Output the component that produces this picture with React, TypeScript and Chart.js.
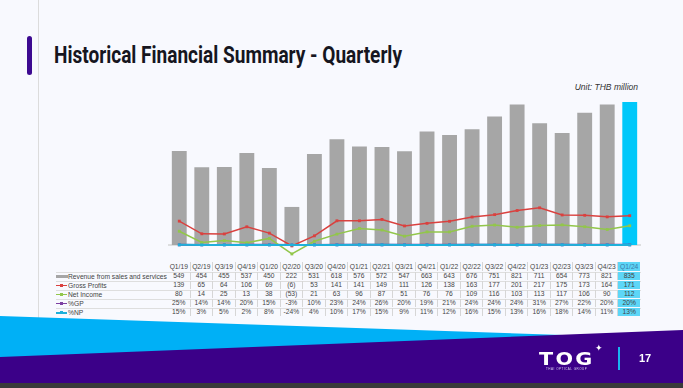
import React, { useEffect, useLayoutEffect, useRef } from "react";
import { Chart, registerables } from "chart.js";

Chart.register(...registerables);

const categories = ["Q1/19","Q2/19","Q3/19","Q4/19","Q1/20","Q2/20","Q3/20","Q4/20","Q1/21","Q2/21","Q3/21","Q4/21","Q1/22","Q2/22","Q3/22","Q4/22","Q1/23","Q2/23","Q3/23","Q4/23","Q1/24"];
const revenue = [549,454,455,537,450,222,531,618,576,572,547,663,643,676,751,821,711,654,773,821,835];
const grossProfit = [139,65,64,106,69,-6,53,141,141,149,111,126,138,163,177,201,217,175,173,164,171];
const netIncome = [80,14,25,13,38,-53,21,63,96,87,51,76,76,109,116,103,113,117,106,90,112];
const gpPct = [25,14,14,20,15,-3,10,23,24,26,20,19,21,24,24,24,31,27,22,20,20];
const npPct = [15,3,5,2,8,-24,4,10,17,15,9,11,12,16,15,13,16,18,14,11,13];

const seriesNames = ["Revenue from sales and services","Gross Profits","Net Income","%GP","%NP"];
const seriesColors = ["#a6a6a6","#d9413f","#92c64b","#7d3fa2","#1fb0da"];
const highlightColor = "#00c8fa";

const CH_LEFT = 168;
const CH_TOP = 91;
const CH_W = 473;
const CH_H = 171;

const fmtNum = (v: number) => (v < 0 ? `(${Math.abs(v)})` : `${v}`);
const fmtPct = (v: number) => `${v}%`;

const zeroLinePlugin = {
  id: "zeroLine",
  beforeDatasetsDraw(chart: any) {
    const y = chart.scales.y.getPixelForValue(0);
    const { left, right } = chart.chartArea;
    const ctx = chart.ctx;
    ctx.save();
    ctx.strokeStyle = "#d4d4d4";
    ctx.lineWidth = 1.5;
    ctx.beginPath();
    ctx.moveTo(left, y);
    ctx.lineTo(right, y);
    ctx.stroke();
    ctx.restore();
  },
};

function ChartCanvas() {
  const ref = useRef<HTMLCanvasElement | null>(null);
  useEffect(() => {
    if (!ref.current) return;
    const last = categories.length - 1;
    const line = (label: string, data: number[], color: string, width: number, order: number) => ({
      type: "line",
      label,
      data,
      borderColor: color,
      backgroundColor: color,
      borderWidth: width,
      pointStyle: "rect",
      pointRadius: 2,
      pointBorderWidth: 0,
      order,
    });
    const chart = new Chart(ref.current, {
      type: "bar",
      data: {
        labels: categories,
        datasets: [
          line(seriesNames[4], npPct.map((v) => v / 100), seriesColors[4], 2, 1),
          line(seriesNames[3], gpPct.map((v) => v / 100), seriesColors[3], 2, 2),
          line(seriesNames[1], grossProfit, seriesColors[1], 1.5, 1),
          line(seriesNames[2], netIncome, seriesColors[2], 1.5, 1),
          {
            type: "bar",
            label: seriesNames[0],
            data: revenue,
            backgroundColor: revenue.map((_, i) => (i === last ? highlightColor : seriesColors[0])),
            borderWidth: 0,
            barPercentage: 0.66,
            categoryPercentage: 1,
            order: 10,
          },
        ],
      },
      options: {
        responsive: false,
        animation: false,
        layout: { padding: 0, autoPadding: false },
        plugins: { legend: { display: false }, tooltip: { enabled: false } },
        scales: {
          x: { display: false },
          y: { display: false, min: -100, max: 900 },
        },
      },
      plugins: [zeroLinePlugin],
    } as any);
    return () => chart.destroy();
  }, []);
  return (
    <canvas
      ref={ref}
      width={CH_W}
      height={CH_H}
      style={{ position: "absolute", left: CH_LEFT, top: CH_TOP, width: CH_W, height: CH_H }}
    />
  );
}

function Marker({ idx }: { idx: number }) {
  if (idx === 0) {
    return <div style={{ position: "absolute", left: 0, top: 3, width: 12, height: 3, background: seriesColors[0] }} />;
  }
  return (
    <div style={{ position: "absolute", left: 0, top: 0, width: 12, height: 9 }}>
      <div style={{ position: "absolute", left: 0, top: 4, width: 11, height: 1.2, background: seriesColors[idx] }} />
      <div style={{ position: "absolute", left: 4, top: 3, width: 3, height: 3, background: seriesColors[idx] }} />
    </div>
  );
}

function DataTable() {
  const colW = CH_W / categories.length;
  const rows: string[][] = [
    revenue.map(fmtNum),
    grossProfit.map(fmtNum),
    netIncome.map(fmtNum),
    gpPct.map(fmtPct),
    npPct.map(fmtPct),
  ];
  const last = categories.length - 1;
  const headerTop = 262;
  const headerH = 10;
  const rowH = 9.1;
  const font: React.CSSProperties = {
    fontFamily: "'Liberation Sans', Arial, sans-serif",
    fontSize: 6.7,
    color: "#444",
    lineHeight: "9px",
  };
  const cells = (vals: string[], top: number, h: number, header: boolean) =>
    vals.map((v, i) => (
      <div
        key={i}
        style={{
          ...font,
          position: "absolute",
          left: CH_LEFT + i * colW,
          top,
          width: colW - 1,
          height: h - 1,
          lineHeight: `${h - 1}px`,
          textAlign: "center",
          borderRight: i < last ? "1px solid #d6d6d6" : "none",
          background: i === last ? "#5dd6f7" : "transparent",
          color: header && i === last ? "#3f79a8" : "#444",
        }}
      >
        {v}
      </div>
    ));
  return (
    <div>
      {cells(categories, headerTop, headerH, true)}
      {rows.map((vals, r) => {
        const top = headerTop + headerH + r * rowH;
        return (
          <React.Fragment key={r}>
            <div
              style={{
                position: "absolute",
                left: 56,
                top: top - 0.5,
                width: CH_LEFT + CH_W - 56,
                height: rowH,
                borderTop: "1px solid #dedede",
                boxSizing: "border-box",
              }}
            />
            <div style={{ position: "absolute", left: 56, top, width: 110, height: rowH }}>
              <Marker idx={r} />
              <div style={{ ...font, position: "absolute", left: 12, top: 0, whiteSpace: "nowrap" }}>{seriesNames[r]}</div>
            </div>
            {cells(vals, top, rowH, false)}
          </React.Fragment>
        );
      })}
    </div>
  );
}

function Title() {
  const ref = useRef<HTMLDivElement | null>(null);
  useLayoutEffect(() => {
    const el = ref.current;
    if (!el) return;
    const w = el.getBoundingClientRect().width;
    if (w > 0) el.style.transform = `scaleX(${348 / w})`;
  }, []);
  return (
    <div
      ref={ref}
      style={{
        position: "absolute",
        left: 54,
        top: 42,
        display: "inline-block",
        transformOrigin: "left center",
        fontFamily: "Roboto, 'Liberation Sans', sans-serif",
        fontWeight: 700,
        fontSize: 23.5,
        lineHeight: "26px",
        color: "#16161f",
        whiteSpace: "nowrap",
      }}
    >
      Historical Financial Summary - Quarterly
    </div>
  );
}

export default function App() {
  return (
    <div style={{ position: "fixed", left: 0, top: 0, width: 683, height: 388, background: "#f8f9fe", overflow: "hidden" }}>
      <div style={{ position: "absolute", left: 38, top: 0, width: 1, height: 318, background: "#dcdcdc" }} />
      <div style={{ position: "absolute", left: 27, top: 36, width: 4.5, height: 39, borderRadius: 2.5, background: "#3d0a91" }} />
      <Title />
      <div
        style={{
          position: "absolute",
          right: 683 - 638,
          top: 82,
          fontFamily: "'Liberation Sans', Arial, sans-serif",
          fontStyle: "italic",
          fontSize: 8.5,
          color: "#333",
          whiteSpace: "nowrap",
        }}
      >
        Unit: THB million
      </div>
      <ChartCanvas />
      <DataTable />
      <svg width={683} height={388} style={{ position: "absolute", left: 0, top: 0 }}>
        <polygon points="0,316 683,339 683,388 0,388" fill="#00b0f6" />
        <polygon points="0,357 683,330 683,388 0,388" fill="#3b0088" />
        <rect x={0} y={383} width={683} height={5} fill="#3a3a3a" />
        <rect x={618} y={347} width={2} height={23} fill="#19b4f0" />
      </svg>
      <div
        style={{
          position: "absolute",
          left: 539,
          top: 349,
          fontFamily: "'DejaVu Sans', sans-serif",
          fontWeight: 700,
          fontSize: 18,
          letterSpacing: 2,
          color: "#fff",
          lineHeight: "20px",
          transform: "scaleX(1.15)",
          transformOrigin: "left",
        }}
      >
        TOG
      </div>
      <div style={{ position: "absolute", left: 595, top: 343, color: "#fff", fontSize: 9, lineHeight: "10px", fontFamily: "'DejaVu Sans', sans-serif" }}>✦</div>
      <div
        style={{
          position: "absolute",
          left: 546,
          top: 367,
          fontFamily: "'Liberation Sans', sans-serif",
          fontSize: 3,
          color: "#d8d0f0",
          letterSpacing: 0.5,
          whiteSpace: "nowrap",
        }}
      >
        THAI OPTICAL GROUP
      </div>
      <div
        style={{
          position: "absolute",
          left: 639,
          top: 352,
          fontFamily: "'Liberation Sans', Arial, sans-serif",
          fontWeight: 700,
          fontSize: 11,
          color: "#fff",
          lineHeight: "13px",
        }}
      >
        17
      </div>
    </div>
  );
}
